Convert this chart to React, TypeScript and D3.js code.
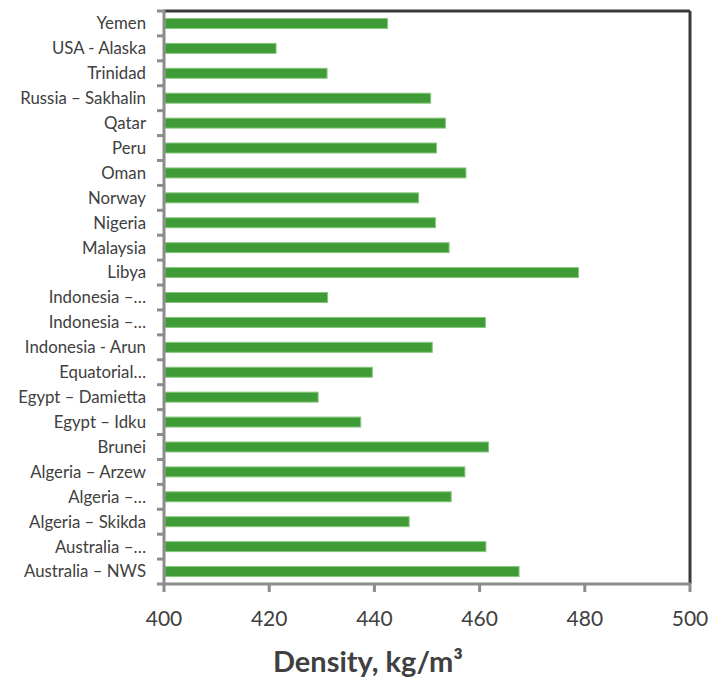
import React from "react";
import * as d3 from "d3";

const categories = [
  "Australia – NWS",
  "Australia –…",
  "Algeria – Skikda",
  "Algeria –…",
  "Algeria – Arzew",
  "Brunei",
  "Egypt – Idku",
  "Egypt – Damietta",
  "Equatorial…",
  "Indonesia - Arun",
  "Indonesia –…",
  "Indonesia –…",
  "Libya",
  "Malaysia",
  "Nigeria",
  "Norway",
  "Oman",
  "Peru",
  "Qatar",
  "Russia – Sakhalin",
  "Trinidad",
  "USA - Alaska",
  "Yemen",
];
const values = [
  467.5, 461.2, 446.6, 454.6, 457.2, 461.7, 437.4, 429.3, 439.6, 451.0, 461.1,
  431.1, 478.8, 454.2, 451.6, 448.4, 457.4, 451.8, 453.5, 450.7, 431.0, 421.3,
  442.5,
];
const xTicks = [400, 420, 440, 460, 480, 500];

export default function App() {
  const W = 712, H = 684;
  const left = 164, right = 690, top = 11, bottom = 584;
  const x = d3.scaleLinear().domain([400, 500]).range([left, right]);
  const ids = categories.map((_, i) => String(i));
  const y = d3.scaleBand().domain(ids.slice().reverse()).range([top, bottom]).paddingInner(0.6).paddingOuter(0.3);
  const step = (bottom - top) / categories.length;
  const boundaries = d3.range(categories.length + 1).map((i) => top + i * step);
  const font = "Lato, 'Open Sans', sans-serif";
  return (
    <svg width={W} height={H} style={{ position: "absolute", left: 0, top: 0, background: "#fff" }}>
      <line x1={left} x2={right} y1={top} y2={top} stroke="#3a3a3a" strokeWidth={3} />
      <line x1={right} x2={right} y1={top} y2={bottom} stroke="#3a3a3a" strokeWidth={3} />
      {values.map((v, i) => (
        <rect
          key={i}
          x={x(400) + 1}
          y={y(String(i))!}
          width={x(v) - x(400) - 1}
          height={y.bandwidth()}
          fill="#3f9b36"
          stroke="#86c77c"
          strokeWidth={1}
        />
      ))}
      <line x1={left} x2={left} y1={top - 1} y2={bottom + 1} stroke="#8c8c8c" strokeWidth={3} />
      {boundaries.map((b, i) => (
        <line key={i} x1={left - 7} x2={left} y1={b} y2={b} stroke="#8c8c8c" strokeWidth={3} />
      ))}
      {categories.map((c, i) => (
        <text
          key={i}
          x={146}
          y={y(String(i))! + y.bandwidth() / 2}
          dy="0.35em"
          textAnchor="end"
          fontFamily={font}
          fontSize={16.8}
          fill="#404040"
        >
          {c}
        </text>
      ))}
      <line x1={left - 1} x2={right + 1} y1={bottom} y2={bottom} stroke="#8c8c8c" strokeWidth={3} />
      {xTicks.map((t) => (
        <g key={t}>
          <line x1={x(t)} x2={x(t)} y1={bottom} y2={bottom + 8} stroke="#8c8c8c" strokeWidth={3} />
          <text x={x(t)} y={626} textAnchor="middle" fontFamily={font} fontSize={21} fill="#404040">
            {t}
          </text>
        </g>
      ))}
      <text x={368} y={672} textAnchor="middle" fontFamily={font} fontSize={29} fontWeight="bold" fill="#404040">
        Density, kg/m³
      </text>
    </svg>
  );
}
